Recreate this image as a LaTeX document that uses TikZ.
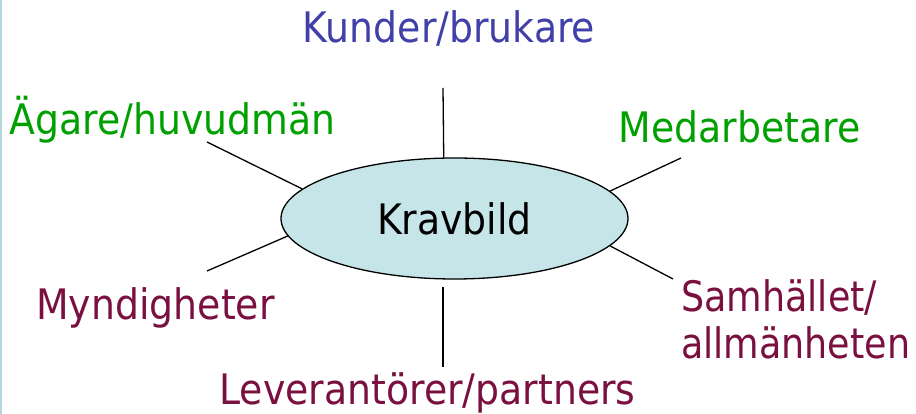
\documentclass[tikz,border=0pt]{standalone}
\usepackage{fontspec}
\setmainfont{DejaVu Sans}[FakeStretch=0.9]
\usetikzlibrary{shapes.geometric}
\definecolor{kblue}{RGB}{64,64,168}
\definecolor{kgreen}{RGB}{0,160,0}
\definecolor{kmaroon}{RGB}{122,16,64}
\definecolor{kfill}{RGB}{198,229,232}
\definecolor{kborder}{RGB}{180,215,220}
\tikzset{
  lbl/.style={inner sep=0pt, font=\fontsize{42}{47}\selectfont, anchor=base},
  conn/.style={draw=black, line width=1.3pt},
}
\begin{document}
\begin{tikzpicture}[x=1pt,y=1pt]
\useasboundingbox (0,0) rectangle (916,414);
\fill[kborder] (0,0) rectangle (2,414);
\node[ellipse, draw=black, line width=1.3pt, fill=kfill, minimum width=347pt, minimum height=121pt, inner sep=0pt, font=\fontsize{42}{47}\selectfont] (kravbild) at (454.5,195.5) {Kravbild};
\node[lbl, text=kblue] (kunder) at (449,371) {Kunder/brukare};
\node[lbl, text=kgreen] (agare) at (172.5,279) {Ägare/huvudmän};
\node[lbl, text=kgreen] (medarb) at (739.5,271) {Medarbetare};
\node[lbl, text=kmaroon] (mynd) at (155.5,94) {Myndigheter};
\node[lbl, text=kmaroon] (lev) at (427.5,9) {Leverantörer/partners};
\node[lbl, text=kmaroon, anchor=base west, align=left] (samh) at (681,55) {\scalebox{0.965}[1]{Samhället/}\\\scalebox{0.965}[1]{allmänheten}};
\coordinate (ctop) at (443,326);
\coordinate (cul) at (207,272);
\coordinate (cur) at (681,256);
\coordinate (clr) at (673,135);
\coordinate (cll) at (207,143);
\coordinate (cb1) at (443,127);
\coordinate (cb2) at (443,47);
\draw[conn] (kravbild.100.8) -- (ctop);
\draw[conn] (kravbild.169.05) -- (cul);
\draw[conn] (kravbild.10.6) -- (cur);
\draw[conn] (kravbild.-10.2) -- (clr);
\draw[conn] (kravbild.186.7) -- (cll);
\draw[conn] (cb1) -- (cb2);
\end{tikzpicture}
\end{document}
